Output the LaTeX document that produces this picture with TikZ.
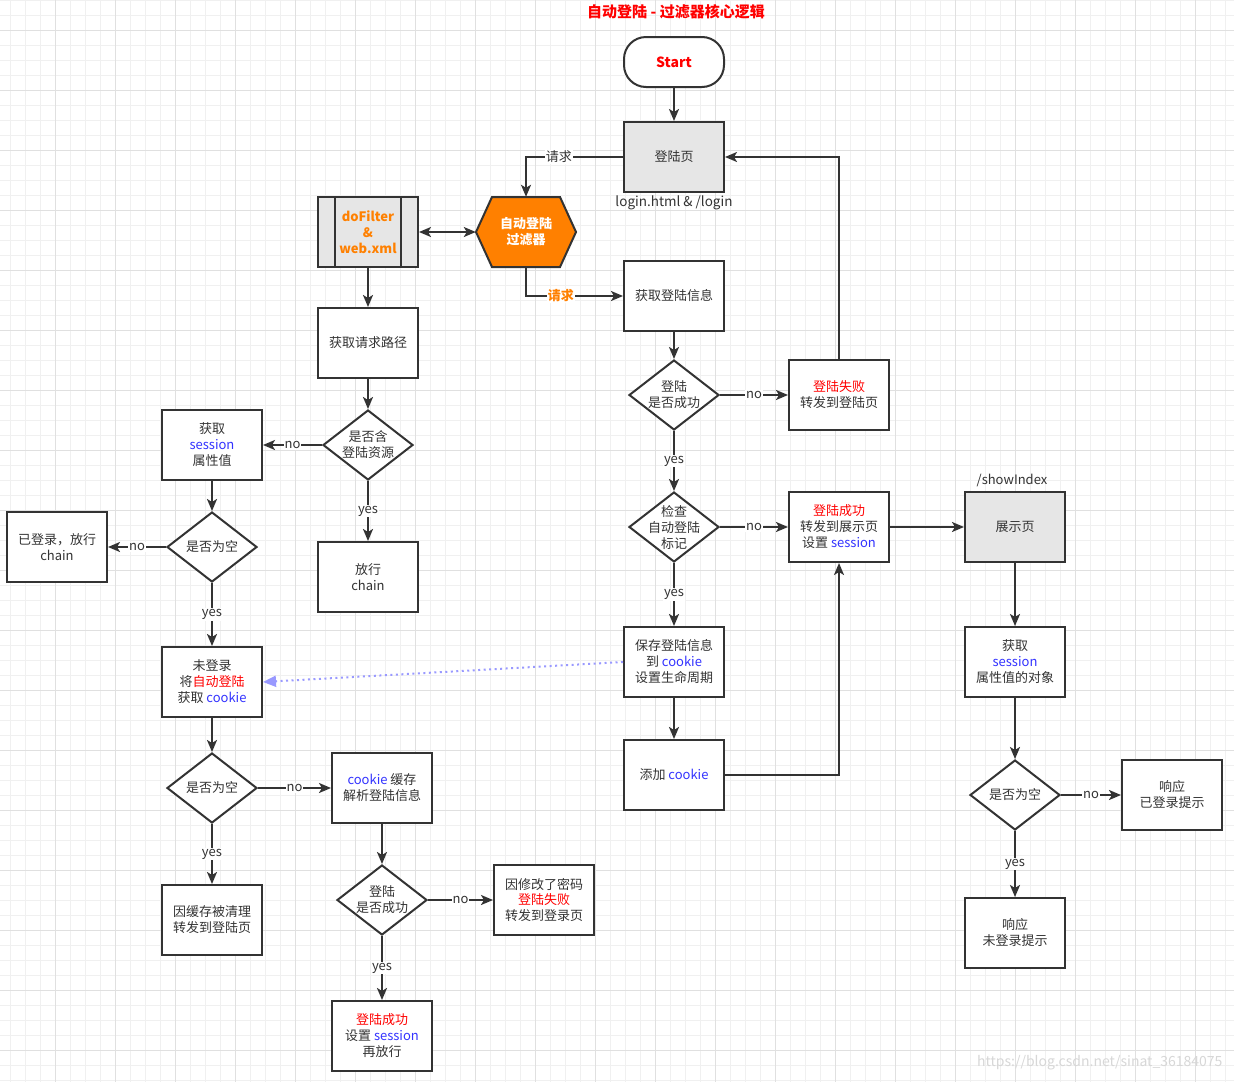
\documentclass[tikz,border=0pt]{standalone}
\usepackage{fontspec}
\setmainfont{Noto Sans CJK SC}
\usetikzlibrary{arrows.meta,shapes.geometric}
\definecolor{linec}{RGB}{51,51,51}
\definecolor{txtc}{RGB}{51,51,51}
\definecolor{sblue}{RGB}{51,51,255}
\definecolor{sred}{RGB}{255,0,0}
\definecolor{hexorange}{RGB}{255,128,0}
\definecolor{pagegray}{RGB}{230,230,230}
\definecolor{dotblue}{RGB}{153,153,255}
\definecolor{gridminor}{RGB}{240,240,240}
\definecolor{gridmajor}{RGB}{224,224,224}
\definecolor{markgray}{RGB}{215,215,215}
\newcommand{\fsize}{\fontsize{13}{16}\selectfont}
\newcommand{\blu}[1]{\textcolor{sblue}{#1}}
\newcommand{\redtxt}[1]{\textcolor{sred}{#1}}
\tikzset{
  box/.style={draw=linec,line width=2pt,fill=white,minimum width=100pt,minimum height=70pt,
    align=center,text=txtc,font=\fsize,inner sep=2pt},
  decision/.style={diamond,draw=linec,line width=2pt,fill=white,minimum width=90pt,
    minimum height=70pt,inner sep=0pt},
  dtext/.style={align=center,text=txtc,font=\fsize,inner sep=0pt},
  note/.style={text=txtc,font=\fsize,inner sep=1pt},
  lbl/.style={fill=white,inner sep=1pt,text=txtc,font=\fsize},
  arr/.style={draw=linec,line width=2pt,-{Stealth[length=12pt,width=10pt,inset=3pt]}},
  boxline/.style={draw=linec,line width=2pt}
}
\begin{document}
\begin{tikzpicture}[x=1pt,y=-1pt,>=Stealth]
  \useasboundingbox (0,0) rectangle (1234,1082);
  \fill[white] (0,0) rectangle (1234,1082);
  \foreach \x in {10,25,...,1234} \draw[gridminor,line width=1pt] (\x,0)--(\x,1082);
  \foreach \y in {0,15,...,1082} \draw[gridminor,line width=1pt] (0,\y)--(1234,\y);
  \foreach \x in {55,115,...,1234} \draw[gridmajor,line width=1pt] (\x,0)--(\x,1082);
  \foreach \y in {30,90,...,1082} \draw[gridmajor,line width=1pt] (0,\y)--(1234,\y);

  \node[font=\fontsize{15}{17}\selectfont\bfseries,text=sred] (title) at (676,12) {自动登陆 - 过滤器核心逻辑};
  \node[text=markgray,font=\fontsize{14}{16}\selectfont,anchor=east] (mark) at (1226,1063) {https://blog.csdn.net/sinat\_36184075};

  \node[box,rounded corners=22pt,minimum height=50pt,font=\fontsize{14}{16}\selectfont\bfseries,text=sred] (start) at (674,62) {Start};
  \node[box,fill=pagegray] (login) at (674,157) {登陆页};
  \node[note,font=\fontsize{13.5}{16}\selectfont] (loginurl) at (674,203) {login.html \& /login};
  \filldraw[fill=hexorange,draw=linec,line width=2pt] (476,232) -- (492,197) -- (560,197) -- (576,232) -- (560,267) -- (492,267) -- cycle;
  \node[minimum width=100pt,minimum height=70pt,align=center,font=\fsize\bfseries,text=white] (filter) at (526,232) {自动登陆\\过滤器};
  \node[box,fill=pagegray,font=\fsize\bfseries,text=hexorange] (dofilter) at (368,232) {doFilter\\\&\\web.xml};
  \draw[boxline] ([xshift=18pt]dofilter.north west) -- ([xshift=18pt]dofilter.south west);
  \draw[boxline] ([xshift=-18pt]dofilter.north east) -- ([xshift=-18pt]dofilter.south east);

  \node[box] (getinfo) at (674,296) {获取登陆信息};
  \node[decision] (d1) at (674,395) {};
  \node[dtext] (d1t) at (d1) {登陆\\是否成功};
  \node[box] (fail) at (839,395) {\redtxt{登陆失败}\\转发到登陆页};
  \node[decision] (d2) at (674,527) {};
  \node[dtext] (d2t) at (d2) {检查\\自动登陆\\标记};
  \node[box] (succ) at (839,527) {\redtxt{登陆成功}\\转发到展示页\\设置 \blu{session}};
  \node[box,fill=pagegray] (show) at (1015,527) {展示页};
  \node[note] (showurl) at (1012,480) {/showIndex};
  \node[box] (save) at (674,662) {保存登陆信息\\到 \blu{cookie}\\设置生命周期};
  \node[box] (addck) at (674,775) {添加 \blu{cookie}};
  \node[box] (getobj) at (1015,662) {获取\\\blu{session}\\属性值的对象};
  \node[decision] (d3) at (1015,795) {};
  \node[dtext] (d3t) at (d3) {是否为空};
  \node[box] (loggedmsg) at (1172,795) {响应\\已登录提示};
  \node[box] (notlogmsg) at (1015,933) {响应\\未登录提示};

  \node[box] (getpath) at (368,343) {获取请求路径};
  \node[decision] (d4) at (368,445) {};
  \node[dtext] (d4t) at (d4) {是否含\\登陆资源};
  \node[box] (getsess) at (212,445) {获取\\\blu{session}\\属性值};
  \node[box] (pass) at (368,577) {放行\\chain};
  \node[decision] (d5) at (212,547) {};
  \node[dtext] (d5t) at (d5) {是否为空};
  \node[box] (logged) at (57,547) {已登录，放行\\chain};
  \node[box] (notlog) at (212,682) {未登录\\将\redtxt{自动登陆}\\获取 \blu{cookie}};
  \node[decision] (d6) at (212,788) {};
  \node[dtext] (d6t) at (d6) {是否为空};
  \node[box] (ckcache) at (382,788) {\blu{cookie} 缓存\\解析登陆信息};
  \node[box] (cleared) at (212,920) {因缓存被清理\\转发到登陆页};
  \node[decision] (d7) at (382,900) {};
  \node[dtext] (d7t) at (d7) {登陆\\是否成功};
  \node[box] (pwdfail) at (544,900) {因修改了密码\\\redtxt{登陆失败}\\转发到登录页};
  \node[box] (relog) at (382,1036) {\redtxt{登陆成功}\\设置 \blu{session}\\再放行};

  \draw[arr] (start) -- (login);
  \draw[arr] (login.west) -| node[lbl,pos=0.33]{请求} (filter.north);
  \draw[linec,line width=2pt,{Stealth[length=12pt,width=10pt,inset=3pt]}-{Stealth[length=12pt,width=10pt,inset=3pt]}] (dofilter.east) -- (filter.west);
  \draw[arr] (filter.south) |- node[lbl,pos=0.68,text=hexorange,font=\fsize\bfseries]{请求} (getinfo.west);
  \draw[arr] (getinfo) -- (d1);
  \draw[arr] (d1) -- node[lbl]{no} (fail);
  \draw[arr] (fail.north) |- (login.east);
  \draw[arr] (d1) -- node[lbl]{yes} (d2);
  \draw[arr] (d2) -- node[lbl]{no} (succ);
  \draw[arr] (succ) -- (show);
  \draw[arr] (d2) -- node[lbl]{yes} (save);
  \draw[arr] (save) -- (addck);
  \draw[arr] (addck.east) -| (succ.south);
  \draw[dotblue,line width=2pt,dash pattern=on 2pt off 3.5pt,-{Triangle[length=13pt,width=11pt]}] (save.west) -- (notlog.east);
  \draw[arr] (show) -- (getobj);
  \draw[arr] (getobj) -- (d3);
  \draw[arr] (d3) -- node[lbl]{no} (loggedmsg);
  \draw[arr] (d3) -- node[lbl]{yes} (notlogmsg);

  \draw[arr] (dofilter) -- (getpath);
  \draw[arr] (getpath) -- (d4);
  \draw[arr] (d4) -- node[lbl]{no} (getsess);
  \draw[arr] (d4) -- node[lbl]{yes} (pass);
  \draw[arr] (getsess) -- (d5);
  \draw[arr] (d5) -- node[lbl]{no} (logged);
  \draw[arr] (d5) -- node[lbl]{yes} (notlog);
  \draw[arr] (notlog) -- (d6);
  \draw[arr] (d6) -- node[lbl]{no} (ckcache);
  \draw[arr] (d6) -- node[lbl]{yes} (cleared);
  \draw[arr] (ckcache) -- (d7);
  \draw[arr] (d7) -- node[lbl]{no} (pwdfail);
  \draw[arr] (d7) -- node[lbl]{yes} (relog);
\end{tikzpicture}
\end{document}
